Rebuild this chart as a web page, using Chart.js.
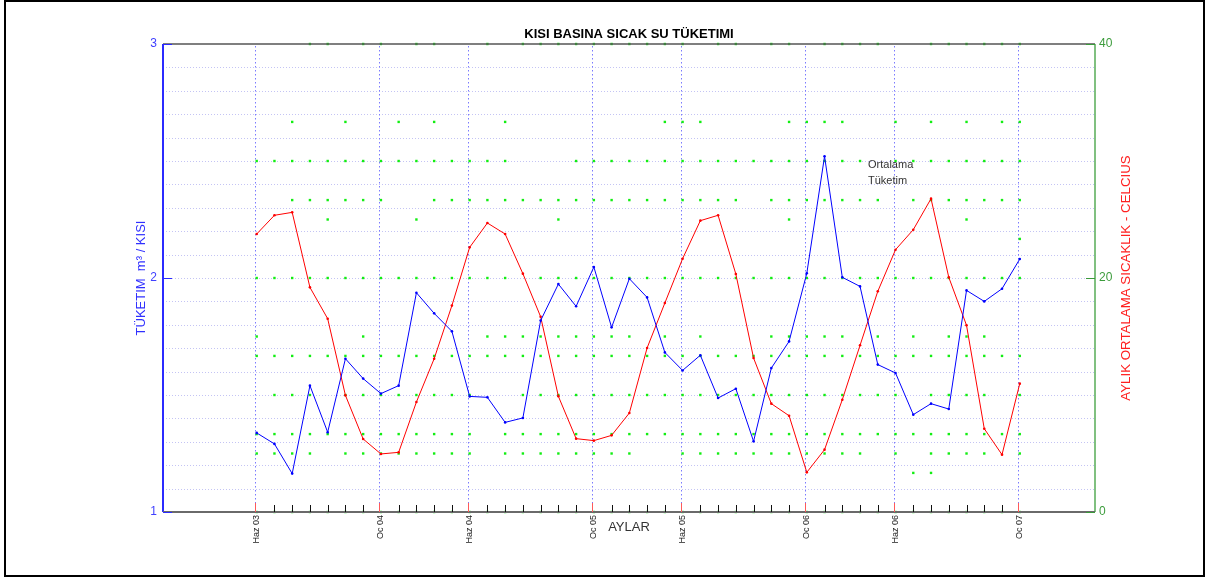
<!DOCTYPE html>
<html><head><meta charset="utf-8">
<script src="https://cdn.jsdelivr.net/npm/chart.js@4.4.0/dist/chart.umd.min.js"></script>
<style>
html,body{margin:0;padding:0;background:#fff;overflow:hidden}
canvas{display:block}
</style></head>
<body>
<canvas id="c" width="1208" height="579"></canvas>
<script>
// ---- data ----
// month index 0 = Haziran 2003 ... 43 = Ocak 2007
const monthIdx = [0,1,2,3,4,5,6,7,8,9,10,11,12,13,14,15,16,17,18,19,20,21,22,23,24,25,26,27,28,29,30,31,32,33,34,35,36,37,38,39,40,41,42,43];
const tickLabels = ['Haz 03','Oc 04','Haz 04','Oc 05','Haz 05','Oc 06','Haz 06','Oc 07'];
const tickIdx = [0,7,12,19,24,31,36,43];

// consumption, m3 / person (left axis)
const consumption = [1.338,1.291,1.164,1.540,1.341,1.655,1.570,1.506,1.540,1.937,1.849,1.772,1.494,1.490,1.383,1.402,1.818,1.974,1.879,2.047,1.789,1.997,1.917,1.682,1.605,1.670,1.487,1.527,1.302,1.615,1.729,2.020,2.520,2.003,1.964,1.630,1.594,1.416,1.463,1.440,1.947,1.900,1.954,2.081];
// monthly mean temperature, Celsius (right axis)
const temperature = [23.76,25.36,25.61,19.20,16.52,9.97,6.24,4.96,5.10,9.40,13.10,17.64,22.62,24.70,23.76,20.37,16.69,9.89,6.27,6.10,6.55,8.46,14.02,17.86,21.65,24.90,25.36,20.34,13.16,9.26,8.23,3.39,5.33,9.60,14.25,18.86,22.42,24.13,26.78,20.06,15.96,7.12,4.90,10.97];

// green marker rows (left-axis level) and the months where a marker shows
const dotLevels = [3.0, 2.667, 2.5, 2.333, 2.25, 2.167, 2.0, 1.75, 1.667, 1.5, 1.333, 1.25, 1.167, 1.0];
const dots300 = [3,4,6,7,9,10,13,15,16,17,18,19,20,21,22,23,24,26,27,29,30,32,33,34,35,38,39,40,41,42,43];
const dots267 = [2,5,8,10,14,23,24,25,30,31,32,33,36,38,40,42,43];
const dots250 = [0,1,2,3,4,5,6,7,8,9,10,11,12,13,14,18,19,20,21,22,23,24,25,26,27,28,29,30,31,32,33,34,36,37,38,39,40,41,42,43];
const dots233 = [2,3,4,5,6,7,10,11,12,13,14,15,16,17,18,19,20,21,22,23,24,25,26,27,29,30,31,32,33,34,35,37,38,39,40,41,42,43];
const dots225 = [4,9,17,30,40];
const dots217 = [43];
const dots200 = [0,1,2,3,4,5,6,7,8,9,10,11,12,13,14,16,17,18,19,20,21,22,23,24,25,26,27,28,29,30,31,32,33,34,35,36,37,38,39,40,41,42,43];
const dots175 = [0,6,13,14,15,16,17,18,19,20,21,23,25,29,30,31,32,33,35,37,39,40,41];
const dots167 = [0,1,2,3,4,5,6,7,8,9,10,11,12,13,14,15,16,17,18,19,20,21,22,23,24,25,26,27,28,29,30,31,32,33,34,35,36,37,38,39,40,41,42,43];
const dots150 = [1,2,3,5,6,7,8,9,10,11,12,15,16,17,18,19,20,21,22,23,24,25,26,27,28,29,30,31,32,33,34,35,36,38,39,40,41,43];
const dots133 = [0,1,2,3,4,5,6,7,8,9,10,11,12,14,15,16,17,18,19,20,21,22,23,24,25,26,27,28,29,30,31,32,33,34,35,36,37,38,39,40,41,42,43];
const dots125 = [0,1,2,3,5,6,7,8,9,10,11,12,14,15,16,17,18,19,20,21,24,25,26,27,28,29,30,31,32,33,34,36,38,39,40,41,43];
const dots117 = [37,38];
const dots100 = [0,1,2,3,4,5,6,7,8,9,10,11,12,13,14,15,16,17,18,19,20,21,22,23,24,25,26,27,28,29,30,31,32,33,34,35,36,37,38,39,40,41,42,43];
const dotRows = [dots300,dots267,dots250,dots233,dots225,dots217,dots200,dots175,dots167,dots150,dots133,dots125,dots117,dots100];

const leftTicks = [1,2,3];
const rightTicks = [0,20,40];

// ---- build ----
const FONT = '"Liberation Sans", Arial, Helvetica, sans-serif';
const bluePts = consumption.map((v,i)=>({x:monthIdx[i], y:v}));
const redPts = temperature.map((v,i)=>({x:monthIdx[i], y:v}));
const greenPts = [];
dotRows.forEach((row,k)=>row.forEach(m=>greenPts.push({x:m, y:dotLevels[k]})));

const px = v => Math.round(v) + 0.5;

const decor = {
  id: 'decor',
  beforeDatasetsDraw(chart) {
    const {ctx, chartArea:a, scales} = chart;
    const y = scales.y, x = scales.x;
    ctx.save();
    ctx.lineWidth = 1;
    // horizontal dotted grid every 0.1 on left axis
    ctx.strokeStyle = '#c4c4f4';
    ctx.setLineDash([1,2]);
    for (let k = 1; k < 20; k++) {
      const yy = px(y.getPixelForValue(1 + k*0.1));
      ctx.beginPath(); ctx.moveTo(a.left, yy); ctx.lineTo(a.right, yy); ctx.stroke();
    }
    // vertical dotted grid at labelled months
    ctx.strokeStyle = '#7a7aff';
    ctx.setLineDash([1.5,2.5]);
    tickIdx.forEach(i=>{
      const xx = px(x.getPixelForValue(i)) - 2;
      ctx.beginPath(); ctx.moveTo(xx, a.top+2); ctx.lineTo(xx, a.bottom); ctx.stroke();
    });
    ctx.setLineDash([]);
    ctx.restore();
  },
  afterDraw(chart) {
    const {ctx, chartArea:a, scales} = chart;
    const x = scales.x, y = scales.y, y2 = scales.y2;
    ctx.save();
    // axis lines
    ctx.lineWidth = 2;
    ctx.strokeStyle = '#2b2bff';
    ctx.beginPath(); ctx.moveTo(a.left, a.top); ctx.lineTo(a.left, a.bottom); ctx.stroke();
    ctx.strokeStyle = '#80c080';
    ctx.beginPath(); ctx.moveTo(a.right, a.top); ctx.lineTo(a.right, a.bottom); ctx.stroke();
    ctx.strokeStyle = '#6a6a6a';
    ctx.beginPath(); ctx.moveTo(a.left, a.bottom); ctx.lineTo(a.right, a.bottom); ctx.stroke();
    ctx.lineWidth = 1.5;
    ctx.strokeStyle = '#555';
    ctx.beginPath(); ctx.moveTo(a.left, a.top); ctx.lineTo(a.right, a.top); ctx.stroke();
    // inner ticks
    ctx.lineWidth = 1;
    monthIdx.forEach(i=>{
      const xx = px(x.getPixelForValue(i)) - (tickIdx.includes(i) ? 2 : 0);
      ctx.strokeStyle = tickIdx.includes(i) ? '#ff5a5a' : '#111';
      const len = tickIdx.includes(i) ? 9 : 7;
      ctx.beginPath(); ctx.moveTo(xx, a.bottom); ctx.lineTo(xx, a.bottom - len); ctx.stroke();
    });
    ctx.strokeStyle = '#2b2bff';
    leftTicks.forEach(v=>{
      const yy = px(y.getPixelForValue(v));
      ctx.beginPath(); ctx.moveTo(a.left, yy); ctx.lineTo(a.left + 9, yy); ctx.stroke();
    });
    ctx.strokeStyle = '#3a9a3a';
    rightTicks.forEach(v=>{
      const yy = px(y2.getPixelForValue(v));
      ctx.beginPath(); ctx.moveTo(a.right, yy); ctx.lineTo(a.right - 9, yy); ctx.stroke();
    });
    // texts
    const cx = (a.left + a.right)/2, cy = (a.top + a.bottom)/2;
    ctx.textBaseline = 'middle';
    ctx.textAlign = 'center';
    ctx.fillStyle = '#000';
    ctx.font = 'bold 13px ' + FONT;
    ctx.fillText('KISI BASINA SICAK SU TÜKETIMI', cx, 34);
    ctx.fillStyle = '#333';
    ctx.font = '13px ' + FONT;
    ctx.fillText('AYLAR', cx, 527);
    // annotation
    ctx.textAlign = 'left';
    ctx.font = '11px ' + FONT;
    ctx.fillStyle = '#333';
    const ax = x.getPixelForValue(34.45), ay = y.getPixelForValue(2.483);
    ctx.fillText('Ortalama', ax, ay);
    ctx.fillText('Tüketim', ax, ay + 15.5);
    // left axis title
    ctx.save();
    ctx.translate(141, cy);
    ctx.rotate(-Math.PI/2);
    ctx.textAlign = 'center';
    ctx.fillStyle = '#3030ff';
    ctx.font = '13px ' + FONT;
    ctx.fillText('TÜKETIM  m³ / KISI', 0, 0);
    ctx.restore();
    // right axis title
    ctx.save();
    ctx.translate(1126, cy);
    ctx.rotate(-Math.PI/2);
    ctx.textAlign = 'center';
    ctx.fillStyle = '#ff2020';
    ctx.font = '13.3px ' + FONT;
    ctx.fillText('AYLIK ORTALAMA SICAKLIK - CELCIUS', 0, 0);
    ctx.restore();
    // outer frame
    ctx.strokeStyle = '#000';
    ctx.lineWidth = 2;
    ctx.strokeRect(5, 1, 1199, 575);
    ctx.restore();
  }
};

new Chart(document.getElementById('c'), {
  type: 'scatter',
  data: {
    datasets: [
      { label:'Tüketim', data: bluePts, yAxisID:'y', showLine:true, borderColor:'#0000ff', borderWidth:1,
        pointRadius:1.3, pointBackgroundColor:'#0000ff', pointBorderWidth:0, order:0, clip:false },
      { label:'Sıcaklık', data: redPts, yAxisID:'y2', showLine:true, borderColor:'#ff0000', borderWidth:1,
        pointRadius:1.3, pointBackgroundColor:'#ff0000', pointBorderWidth:0, order:1, clip:false },
      { label:'nokta', data: greenPts, yAxisID:'y', showLine:false, pointStyle:'rect',
        pointRadius:1.7, pointBackgroundColor:'#12ee12', pointBorderWidth:0, order:2, clip:false }
    ]
  },
  options: {
    responsive:false, animation:false, devicePixelRatio:1,
    layout:{ padding:{ top:44, left:0, right:0, bottom:0 } },
    plugins:{ legend:{display:false}, tooltip:{enabled:false}, title:{display:false} },
    scales:{
      x:{ type:'linear', min:-5.28, max:47.24,
        grid:{display:false, drawTicks:false}, border:{display:false},
        afterBuildTicks:(s)=>{ s.ticks = tickIdx.map(v=>({value:v})); },
        afterFit:(s)=>{ s.height = 67; },
        ticks:{ autoSkip:false, minRotation:90, maxRotation:90, padding:3,
          color:'#222', font:{family:FONT, size:9},
          callback:(v)=>{ const k = tickIdx.indexOf(v); return k >= 0 ? tickLabels[k] : ''; } } },
      y:{ position:'left', min:1, max:3,
        grid:{display:false, drawTicks:false}, border:{display:false},
        afterBuildTicks:(s)=>{ s.ticks = leftTicks.map(v=>({value:v})); },
        afterFit:(s)=>{ s.width = 163; },
        ticks:{ padding:6, color:'#4040ff', font:{family:FONT, size:12} } },
      y2:{ position:'right', min:0, max:40,
        grid:{display:false, drawTicks:false}, border:{display:false},
        afterBuildTicks:(s)=>{ s.ticks = rightTicks.map(v=>({value:v})); },
        afterFit:(s)=>{ s.width = 113; },
        ticks:{ padding:4, color:'#3c9c3c', font:{family:FONT, size:12} } }
    }
  },
  plugins:[decor]
});
</script>
</body></html>
